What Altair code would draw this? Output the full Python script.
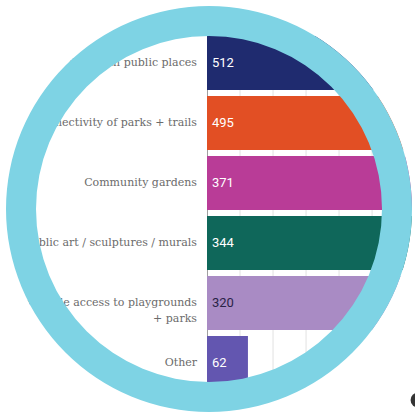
import math
import altair as alt
import pandas as pd

categories = [
    "Events in public places",
    "Connectivity of parks + trails",
    "Community gardens",
    "Public art / sculptures / murals",
    "Equitable access to playgrounds|+ parks",
    "Other",
]
values = [512, 495, 371, 344, 320, 62]
bar_colors = ["#1f2b6f", "#e24f24", "#b93c97", "#0f675a", "#a98bc4", "#6356b0"]
value_colors = ["#ffffff", "#ffffff", "#ffffff", "#ffffff", "#2a2347", "#ffffff"]
grid_values = [50, 100, 150, 200, 250, 300]

df = pd.DataFrame({"cat": categories, "value": values,
                   "color": bar_colors, "tcolor": value_colors})
grid_df = pd.DataFrame({"g": grid_values})
one = pd.DataFrame({"a": [0]})

LEFT, TOP = 207, 33
CX, CY = 209, 209

xscale = alt.Scale(domain=[0, 315], nice=False, zero=True)

grid = alt.Chart(grid_df).mark_rule(color="#e2e2e2", strokeWidth=1).encode(
    x=alt.X("g:Q", scale=xscale, axis=None))

y_enc = alt.Y("cat:N", sort=categories,
              scale=alt.Scale(paddingInner=0.1, paddingOuter=0.05),
              axis=alt.Axis(labels=False, ticks=False, title=None, grid=False,
                            domainColor="#a0a0a0", domainWidth=1))

bars = alt.Chart(df).mark_bar(clip=False).encode(
    x=alt.X("value:Q", scale=xscale, axis=None), y=y_enc,
    color=alt.Color("color:N", scale=None))

vals = alt.Chart(df).mark_text(align="left", baseline="middle", font="Roboto",
                               fontSize=13).encode(
    x=alt.value(5), y=alt.Y("cat:N", sort=categories),
    text=alt.Text("value:Q"), color=alt.Color("tcolor:N", scale=None))

labels = alt.Chart(df).mark_text(align="right", baseline="middle", lineBreak="|",
                                 font="DejaVu Serif", fontSize=11, color="#6b6b6b",
                                 lineHeight=16).encode(
    x=alt.value(-10), y=alt.Y("cat:N", sort=categories), text="cat:N")

mask = alt.Chart(one).mark_arc(theta=0, theta2=2 * math.pi, radius=203, radius2=340,
                               color="#ffffff").encode(
    x=alt.value(CX - LEFT), y=alt.value(CY - TOP))

ring = alt.Chart(one).mark_arc(theta=0, theta2=2 * math.pi, radius=173, radius2=203,
                               color="#7ed3e4").encode(
    x=alt.value(CX - LEFT), y=alt.value(CY - TOP))

blob = alt.Chart(one).mark_point(filled=True, shape="circle", size=220,
                                 color="#1e1e1e", opacity=0.9).encode(
    x=alt.value(418 - LEFT), y=alt.value(400 - TOP))

chart = alt.layer(grid, bars, vals, labels, mask, ring, blob).properties(
    width=208, height=360,
    padding={"left": LEFT, "top": TOP, "right": 0, "bottom": 22},
    autosize=alt.AutoSizeParams(type="none"),
    background="#ffffff",
).configure_view(stroke=None)

chart.save("out.html", embed_options={"renderer": "svg", "actions": False})
